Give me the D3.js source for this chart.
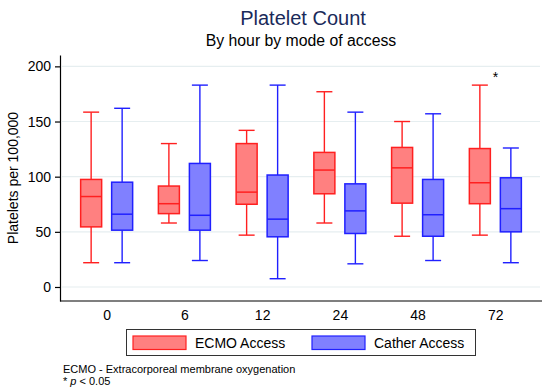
<!DOCTYPE html>
<html>
<head>
<meta charset="utf-8">
<script src="https://cdn.jsdelivr.net/npm/d3@7"></script>
<style>
  body { margin: 0; background: #fff; }
  text { font-family: "Liberation Sans", Arial, Helvetica, sans-serif; }
</style>
</head>
<body>
<div id="root"></div>
<script>
const width = 550;
const height = 392;

const hours = ["0", "6", "12", "24", "48", "72"];
const groups = ["ECMO Access", "Cather Access"];
// per hour: [lower whisker, q1, median, q3, upper whisker]
const ecmoStats = [
  [22, 54.5, 82, 97.5, 158.5],
  [58, 66.5, 75.5, 91.5, 130],
  [47, 75, 86, 130, 142],
  [58, 84.5, 106, 122, 177],
  [46, 76, 108, 126.5, 150],
  [47, 75.5, 94.5, 125.5, 183]
];
const catherStats = [
  [22, 51.5, 66, 95, 162],
  [24, 51.5, 65, 112, 183],
  [7.5, 45.5, 61.5, 101.5, 183],
  [21, 48.5, 69, 93.5, 158.5],
  [24, 46, 65.5, 97.5, 157],
  [22, 50, 71, 99, 126]
];
const significant = [false, false, false, false, false, true];
const yTicks = [0, 50, 100, 150, 200];

const colors = {
  "ECMO Access": { stroke: "#ff2020", fill: "#ff8080" },
  "Cather Access": { stroke: "#2020ff", fill: "#8080ff" }
};

const plot = { left: 60, right: 542, top: 55, bottom: 301 };

const svg = d3.select("#root").append("svg")
  .attr("width", width)
  .attr("height", height);

svg.append("rect").attr("width", width).attr("height", height).attr("fill", "#fff");

const x = d3.scalePoint().domain(hours).range([plot.left, plot.right]).padding(0.6);
const offset = d3.scalePoint().domain(groups).range([-15.5, 15.5]);
const y = d3.scaleLinear().domain([-12.7, 210.3]).range([plot.bottom, plot.top]);

// titles
svg.append("text")
  .attr("x", 303).attr("y", 25)
  .attr("text-anchor", "middle")
  .attr("font-size", "20px")
  .attr("fill", "#1a2a5a")
  .text("Platelet Count");

svg.append("text")
  .attr("x", 301).attr("y", 46)
  .attr("text-anchor", "middle")
  .attr("font-size", "15.8px")
  .attr("fill", "#000")
  .text("By hour by mode of access");

// gridlines
svg.append("g")
  .selectAll("line")
  .data(yTicks)
  .enter()
  .append("line")
  .attr("x1", plot.left + 2)
  .attr("x2", plot.right - 2)
  .attr("y1", d => y(d))
  .attr("y2", d => y(d))
  .attr("stroke", "#e6eef0")
  .attr("stroke-width", 1.2);

// y axis
const yAxis = svg.append("g")
  .attr("transform", `translate(${plot.left},0)`)
  .call(d3.axisLeft(y).tickValues(yTicks).tickSize(5).tickSizeOuter(0).tickPadding(4));
yAxis.select(".domain").attr("stroke", "#000").attr("stroke-width", 1.2);
yAxis.selectAll(".tick line").attr("stroke", "#000").attr("stroke-width", 1.2);
yAxis.selectAll(".tick text")
  .attr("font-size", "14px")
  .attr("font-family", "\"Liberation Sans\", Arial, sans-serif")
  .attr("fill", "#000");

svg.append("text")
  .attr("transform", `translate(18,${(plot.top + plot.bottom) / 2}) rotate(-90)`)
  .attr("text-anchor", "middle")
  .attr("font-size", "14px")
  .text("Platelets per 100,000");

// x axis
const xAxis = svg.append("g")
  .attr("transform", `translate(0,${plot.bottom})`)
  .call(d3.axisBottom(x).tickSize(0).tickPadding(9));
xAxis.select(".domain")
  .attr("d", `M${plot.left},0H${plot.right}`)
  .attr("stroke", "#000").attr("stroke-width", 1.2);
xAxis.selectAll(".tick text")
  .attr("font-size", "14px")
  .attr("font-family", "\"Liberation Sans\", Arial, sans-serif")
  .attr("fill", "#000");

// boxes
const boxWidth = 21;
const capWidth = 16;
const boxData = [];
hours.forEach((h, i) => {
  boxData.push({ hour: h, group: groups[0], s: ecmoStats[i] });
  boxData.push({ hour: h, group: groups[1], s: catherStats[i] });
});

const boxes = svg.append("g")
  .selectAll("g")
  .data(boxData)
  .enter()
  .append("g")
  .attr("transform", d => `translate(${x(d.hour) + offset(d.group)},0)`);

// whiskers
boxes.append("line")
  .attr("x1", 0).attr("x2", 0)
  .attr("y1", d => y(d.s[4])).attr("y2", d => y(d.s[3]))
  .attr("stroke", d => colors[d.group].stroke).attr("stroke-width", 1.4);
boxes.append("line")
  .attr("x1", 0).attr("x2", 0)
  .attr("y1", d => y(d.s[1])).attr("y2", d => y(d.s[0]))
  .attr("stroke", d => colors[d.group].stroke).attr("stroke-width", 1.4);
boxes.append("line")
  .attr("x1", -capWidth / 2).attr("x2", capWidth / 2)
  .attr("y1", d => y(d.s[4])).attr("y2", d => y(d.s[4]))
  .attr("stroke", d => colors[d.group].stroke).attr("stroke-width", 1.4);
boxes.append("line")
  .attr("x1", -capWidth / 2).attr("x2", capWidth / 2)
  .attr("y1", d => y(d.s[0])).attr("y2", d => y(d.s[0]))
  .attr("stroke", d => colors[d.group].stroke).attr("stroke-width", 1.4);

boxes.append("rect")
  .attr("x", -boxWidth / 2)
  .attr("width", boxWidth)
  .attr("y", d => y(d.s[3]))
  .attr("height", d => y(d.s[1]) - y(d.s[3]))
  .attr("fill", d => colors[d.group].fill)
  .attr("stroke", d => colors[d.group].stroke)
  .attr("stroke-width", 1.5);

boxes.append("line")
  .attr("x1", -boxWidth / 2).attr("x2", boxWidth / 2)
  .attr("y1", d => y(d.s[2])).attr("y2", d => y(d.s[2]))
  .attr("stroke", d => colors[d.group].stroke).attr("stroke-width", 1.5);

// significance markers
svg.append("g")
  .selectAll("text")
  .data(hours.filter((h, i) => significant[i]))
  .enter()
  .append("text")
  .attr("x", d => x(d))
  .attr("y", y(183) - 3)
  .attr("text-anchor", "middle")
  .attr("font-size", "14px")
  .text("*");

// legend
const legend = svg.append("g").attr("id", "legend");
legend.append("rect")
  .attr("x", 126.5).attr("y", 329.5)
  .attr("width", 349).attr("height", 26)
  .attr("fill", "#fff")
  .attr("stroke", "#333")
  .attr("stroke-width", 1);

const legendX = d3.scalePoint().domain(groups).range([133, 312]);
const items = legend.selectAll("g.item")
  .data(groups)
  .enter()
  .append("g")
  .attr("class", "item")
  .attr("transform", d => `translate(${legendX(d)},336)`);
items.append("rect")
  .attr("width", 53).attr("height", 13.5)
  .attr("fill", d => colors[d].fill)
  .attr("stroke", d => colors[d].stroke)
  .attr("stroke-width", 1.2);
items.append("text")
  .attr("x", 62).attr("y", 12)
  .attr("font-size", "14px")
  .text(d => d);

// notes
svg.append("text")
  .attr("x", 63).attr("y", 372.5)
  .attr("font-size", "11px")
  .text("ECMO - Extracorporeal membrane oxygenation");
const note2 = svg.append("text")
  .attr("x", 63).attr("y", 384.5)
  .attr("font-size", "11px");
note2.append("tspan").text("* ");
note2.append("tspan").attr("font-style", "italic").text("p");
note2.append("tspan").text(" < 0.05");
</script>
</body>
</html>
